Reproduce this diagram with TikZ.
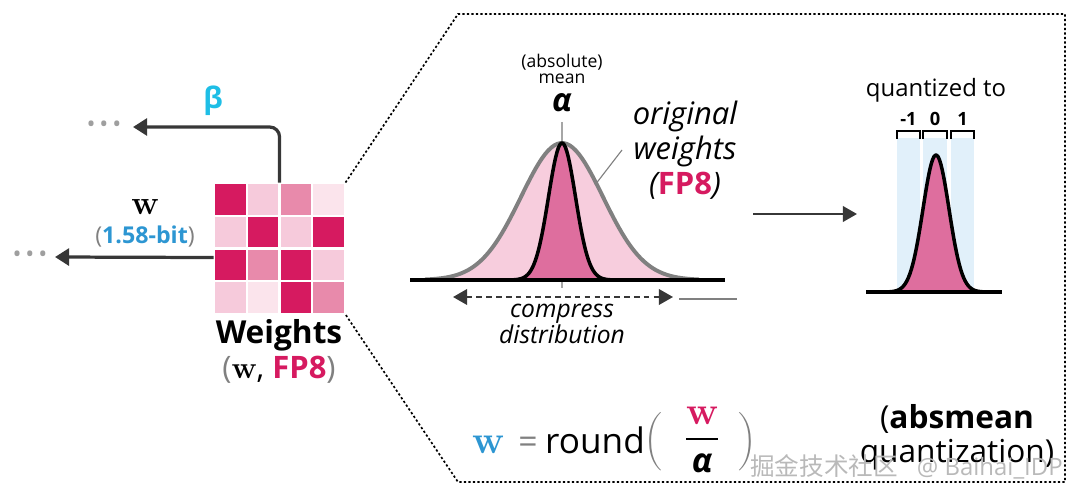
\documentclass[tikz,border=0pt]{standalone}
\usepackage{amsmath}
\usepackage[no-math]{fontspec}
\setmainfont{Open Sans}
\newfontfamily\wfont{Latin Modern Roman}
\newfontfamily\cjkfont{Noto Sans CJK SC}
\usetikzlibrary{arrows.meta, positioning, calc, fit}
\definecolor{wd}{RGB}{214,26,96}
\definecolor{wm}{RGB}{232,138,171}
\definecolor{wl}{RGB}{246,202,219}
\definecolor{wv}{RGB}{251,228,236}
\definecolor{wideFill}{RGB}{247,205,221}
\definecolor{narrowFill}{RGB}{222,110,158}
\definecolor{stripe}{RGB}{225,240,250}
\definecolor{bitblue}{RGB}{45,150,210}
\definecolor{betacyan}{RGB}{30,190,230}
\definecolor{darkline}{RGB}{55,55,55}
\definecolor{parengray}{RGB}{128,128,128}
\tikzset{
  cell/.style={rectangle, minimum size=21.8pt, inner sep=0pt},
  dotsnode/.style={text=gray!75, font=\fontsize{17}{18}\selectfont, inner xsep=8pt},
  thickarrow/.style={-{Triangle[length=10pt,width=12pt]}, line width=2.3pt, draw=darkline},
  midarrow/.style={-{Triangle[length=10pt,width=11pt]}, line width=1.6pt, draw=darkline},
  zoombox/.style={line width=1.2pt, dash pattern=on 1.6pt off 1.6pt},
  curvelabel/.style={align=center, font=\fontsize{22}{25}\selectfont\itshape},
  formula/.style={anchor=base, inner sep=0pt},
}

\begin{document}
\begin{tikzpicture}[x=0.025cm, y=-0.025cm]
\useasboundingbox (0,0) rectangle (1080,499);
% weight matrix
\foreach \r/\cl in {0/{wd,wl,wm,wv}, 1/{wl,wd,wl,wd}, 2/{wd,wm,wd,wl}, 3/{wl,wv,wd,wm}}
  \foreach \c [count=\k from 0] in \cl
    \node[cell, fill=\c] (c\r\k) at (230.4+32.75*\k, 199.4+32.75*\r) {};
\node[fit=(c00)(c33), inner sep=0.7pt] (mat) {};
\node[font=\fontsize{22.5}{24}\selectfont\bfseries] (wlabel) at (279,335) {Weights};
\node[font=\fontsize{22}{24}\selectfont] (wsub) at (279,370) {{\color{parengray}(}{\wfont\bfseries w}, {\bfseries\color{wd}FP8}{\color{parengray})}};

% outputs
\node[dotsnode] (dotsB) at (104,127) {\textbullet\,\textbullet\,\textbullet};
\node[dotsnode] (dotsW) at (30,257) {\textbullet\,\textbullet\,\textbullet};
\draw[thickarrow, rounded corners=7pt] (mat.north) |- (dotsB.east);
\draw[thickarrow] ($(mat.west)+(0,9)$) -- (dotsW.east -| 55,0);
\node[text=betacyan, font=\fontsize{21}{24}\selectfont\bfseries] (beta) at (213,101) {β};
\node[font=\fontsize{24}{25}\selectfont\wfont\bfseries] (wbit) at (145,207) {w};
\node[font=\fontsize{16.5}{18}\selectfont] (bits) at (145,237) {{\color{parengray}(}{\bfseries\color{bitblue}1.58-bit}{\color{parengray})}};

% zoom outline
\draw[zoombox] (mat.north east) -- (458,14) -- (1065,14) -- (1065,482) -- (458,482) -- (mat.south east);

% original distribution
\coordinate (meanTop) at (562,122);
\coordinate (meanBot) at (562,288);
\draw[gray!70, line width=1.2pt] (meanTop) -- (meanBot);
\fill[wideFill] plot[domain=425:699, samples=90] (\x, {280-137*exp(-0.5*((\x-562)/41)^2)}) -- cycle;
\draw[gray, line width=2.8pt] plot[domain=425:699, samples=90] (\x, {280-137*exp(-0.5*((\x-562)/41)^2)});
\fill[narrowFill] plot[domain=510:614, samples=80] (\x, {280-137*exp(-0.5*((\x-562)/13.5)^2)}) -- cycle;
\draw[black, line width=2.5pt, line join=round] plot[domain=505:619, samples=80] (\x, {280-137*exp(-0.5*((\x-562)/13.5)^2)});
\draw[black, line width=3pt] (410,280) -- (725,280);
\node[font=\fontsize{12.5}{14}\selectfont, inner sep=1pt] (absl) at (562,62) {(absolute)};
\node[font=\fontsize{12.5}{14}\selectfont, inner sep=1pt] (meanl) at (562,79) {mean};
\node[font=\fontsize{23}{24}\selectfont\bfseries\itshape, inner sep=1pt] (alpha) at (562,103) {α};
\node[curvelabel] (orig) at (685,150) {original\\weights\\(\upshape{\bfseries\color{wd}FP8}\itshape)};
\coordinate (origTail) at (622,150);
\coordinate (origHead) at (595,185);
\draw[gray, line width=0.8pt] (origTail) -- (origHead);
\coordinate (cmpL) at (453,297);
\coordinate (cmpR) at (673,297);
\draw[{Triangle[length=10pt,width=11pt]}-{Triangle[length=10pt,width=11pt]}, line width=1.5pt, dash pattern=on 4pt off 3pt, draw=darkline] (cmpL) -- (cmpR);
\coordinate (tickL) at (679,299);
\coordinate (tickR) at (737,299);
\draw[gray, line width=0.9pt] (tickL) -- (tickR);
\node[curvelabel, font=\fontsize{17.5}{19}\selectfont\itshape] (cmp) at (562,324) {compress\\distribution};

\coordinate (arrS) at (753,214);
\coordinate (arrE) at (857,214);
\draw[midarrow] (arrS) -- (arrE);

% quantized distribution
\foreach \xa/\xb/\v in {897/920/-1, 923/947/0, 951/974/1} {
  \fill[stripe] (\xa,138) rectangle (\xb,292);
  \draw[black, line width=1.4pt] (\xa,139) -- (\xa,131) -- (\xb,131) -- (\xb,139);
  \node[font=\fontsize{13}{14}\selectfont\bfseries] (q\v) at ({(\xa+\xb)/2},119) {\v};
}
\fill[narrowFill] plot[domain=886:986, samples=80] (\x, {292-137*exp(-0.5*((\x-936)/13)^2)}) -- cycle;
\draw[black, line width=2.5pt, line join=round] plot[domain=880:992, samples=80] (\x, {292-137*exp(-0.5*((\x-936)/13)^2)});
\draw[black, line width=3pt] (866,292) -- (1002,292);
\node[font=\fontsize{17}{18}\selectfont] (quant) at (936,90) {quantized to};

% formula
\node[formula, text=bitblue, font=\fontsize{28}{30}\selectfont\wfont\bfseries] (wq) at (489,453) {w};
\node[formula, text=parengray, font=\fontsize{24}{26}\selectfont] (eq) at (528,453) {=};
\node[formula, font=\fontsize{25}{28}\selectfont] (rnd) at (595,453) {round};
\node[formula, text=parengray, font=\fontsize{18}{20}\selectfont] (lp) at (653,448) {$\biggl($};
\node[formula, font=\fontsize{24}{26}\selectfont] (frac) at (702,448) {$\genfrac{}{}{1.1pt}{0}{\text{\fontsize{28}{30}\selectfont\wfont\bfseries\color{wd}w}}{\text{\bfseries\itshape α}}$};
\node[formula, text=parengray, font=\fontsize{18}{20}\selectfont] (rp) at (747,448) {$\biggr)$};
\node[align=center, font=\fontsize{22.5}{24}\selectfont] (absm) at (957,437) {({\bfseries absmean}\\quantization)};
\node[anchor=base west, text=gray!55, font=\fontsize{17.5}{18}\selectfont, inner sep=0pt] (mark) at (750,475) {\cjkfont 掘金技术社区};
\node[anchor=base east, text=gray!55, font=\fontsize{17}{18}\selectfont, inner sep=0pt] (mark2) at (1063,475) {@ Baihai\_IDP};
\end{tikzpicture}
\end{document}
